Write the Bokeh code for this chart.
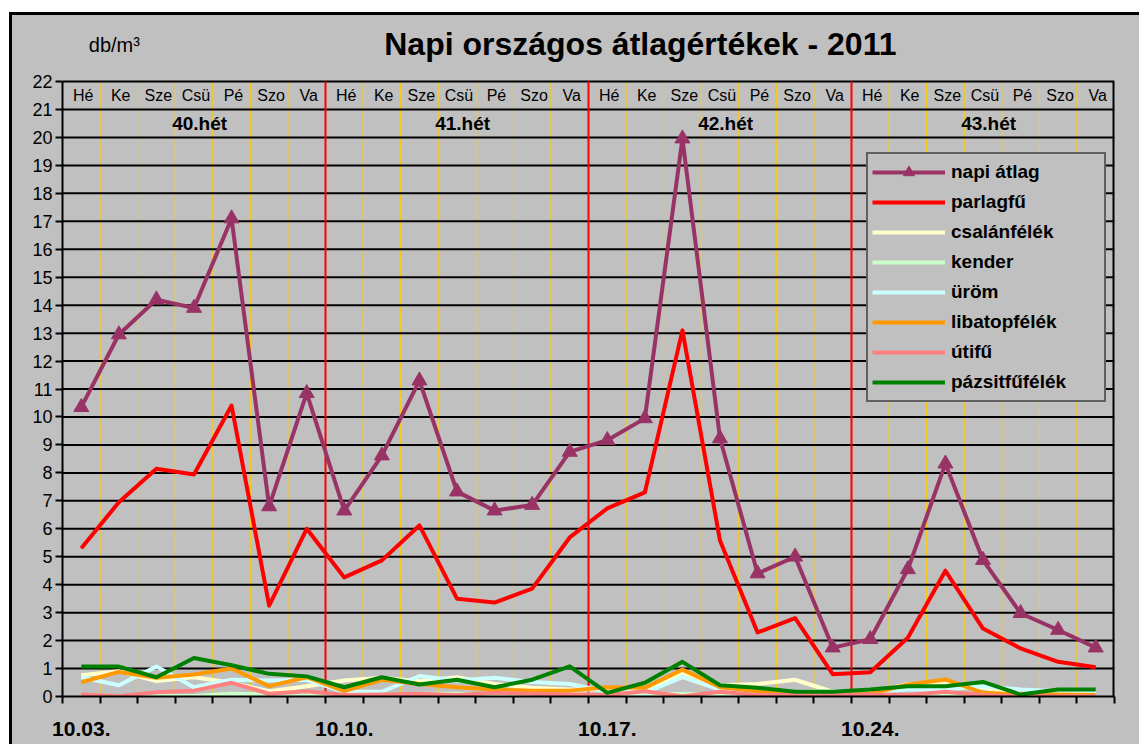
from bokeh.plotting import figure
from bokeh.models import (Range1d, FixedTicker, Legend, LegendItem, ColumnDataSource,
                          GlobalInlineStyleSheet)
from bokeh.embed import file_html
from bokeh.resources import INLINE
from bokeh.core.properties import value

# ---------------- data ----------------
dates = ["10.%02d." % d for d in range(3, 31)]          # 28 days, 10.03. .. 10.30.
weekdays = ["Hé", "Ke", "Sze", "Csü", "Pé", "Szo", "Va"]
weeks = ["40.hét", "41.hét", "42.hét", "43.hét"]
date_labels = ["10.03.", "10.10.", "10.17.", "10.24."]
title_text = "Napi országos átlagértékek - 2011"
unit_text = "db/m³"

napi_atlag = [10.35, 12.95, 14.2, 13.9, 17.1, 6.8, 10.85,
              6.65, 8.62, 11.3, 7.33, 6.65, 6.85, 8.75,
              9.17, 9.95, 19.96, 9.23, 4.4, 5.0, 1.75,
              2.05, 4.55, 8.33, 4.88, 2.98, 2.38, 1.75]
parlagfu = [5.3, 6.95, 8.15, 7.94, 10.41, 3.25, 6.0,
            4.26, 4.87, 6.12, 3.5, 3.36, 3.86, 5.69,
            6.73, 7.3, 13.1, 5.58, 2.29, 2.8, 0.8,
            0.87, 2.1, 4.5, 2.43, 1.72, 1.24, 1.05]
csalanfelek = [0.76, 0.9, 0.55, 0.69, 0.49, 0.19, 0.37,
               0.57, 0.67, 0.55, 0.69, 0.45, 0.31, 0.25,
               0.25, 0.19, 0.85, 0.4, 0.45, 0.6, 0.17,
               0.13, 0.45, 0.45, 0.31, 0.1, 0.1, 0.1]
kender = [0.0, 0.0, 0.02, 0.02, 0.1, 0.07, 0.1,
          0.05, 0.05, 0.1, 0.1, 0.08, 0.1, 0.08,
          0.05, 0.05, 0.1, 0.05, 0.05, 0.03, 0.03,
          0.03, 0.05, 0.1, 0.03, 0.02, 0.02, 0.02]
urom = [0.69, 0.4, 1.07, 0.33, 0.6, 0.57, 0.6,
        0.17, 0.17, 0.73, 0.57, 0.67, 0.52, 0.45,
        0.17, 0.13, 0.69, 0.25, 0.21, 0.17, 0.19,
        0.17, 0.25, 0.25, 0.37, 0.25, 0.19, 0.17]
libatopfelek = [0.51, 0.88, 0.67, 0.79, 1.0, 0.37, 0.69,
                0.19, 0.6, 0.45, 0.33, 0.25, 0.21, 0.21,
                0.33, 0.31, 0.96, 0.33, 0.19, 0.1, 0.1,
                0.1, 0.43, 0.61, 0.13, 0.07, 0.07, 0.05]
utifu = [0.07, 0.01, 0.15, 0.21, 0.49, 0.1, 0.19,
         0.05, 0.07, 0.1, 0.05, 0.13, 0.1, 0.07,
         0.05, 0.19, 0.01, 0.17, 0.05, 0.05, 0.05,
         0.07, 0.05, 0.17, 0.05, 0.01, 0.01, 0.01]
pazsitfufelek = [1.07, 1.07, 0.69, 1.38, 1.12, 0.81, 0.72,
                 0.33, 0.69, 0.43, 0.6, 0.33, 0.6, 1.08,
                 0.13, 0.49, 1.24, 0.4, 0.31, 0.17, 0.17,
                 0.25, 0.37, 0.37, 0.52, 0.07, 0.25, 0.25]

series = [
    ("parlagfű", parlagfu, "#FF0000"),
    ("csalánfélék", csalanfelek, "#FFFFCC"),
    ("kender", kender, "#CCFFCC"),
    ("üröm", urom, "#CCFFFF"),
    ("libatopfélék", libatopfelek, "#FF9900"),
    ("útifű", utifu, "#FF8080"),
    ("pázsitfűfélék", pazsitfufelek, "#008000"),
]

FONT = "Liberation Sans"
GREY = "#C0C0C0"
n = len(dates)
ymax = 22
ytop = 24.9           # frame reaches up into the header band
xs = [i + 0.5 for i in range(n)]

p = figure(width=1139, height=744, x_range=Range1d(0, n), y_range=Range1d(0, ytop),
           output_backend="svg", toolbar_location=None,
           min_border_left=62, min_border_right=25, min_border_top=0, min_border_bottom=48,
           background_fill_alpha=0, border_fill_alpha=0)
p.title.visible = False
p.outline_line_color = None
p.xgrid.visible = False
p.ygrid.visible = False
# white page, black chart-area frame (left/top) and grey chart area painted behind the canvas
p.styles = {"background": ("linear-gradient(%s, %s) 12px 15px / 100%% 100%% no-repeat, "
                           "linear-gradient(#000, #000) 9px 12px / 100%% 100%% no-repeat, "
                           "#FFFFFF") % (GREY, GREY)}
p.stylesheets = [GlobalInlineStyleSheet(css="html, body { overflow: hidden; margin: 0; }")]

# axes
p.yaxis.ticker = FixedTicker(ticks=list(range(0, ymax + 1)))
p.yaxis.bounds = (0, ymax)
p.yaxis.major_label_text_font = FONT
p.yaxis.major_label_text_font_size = "18px"
p.yaxis.major_label_text_color = "black"
p.yaxis.major_label_standoff = 3
p.yaxis.major_tick_out = 7
p.yaxis.major_tick_in = 0
p.yaxis.major_tick_line_width = 2
p.yaxis.minor_tick_line_color = None

p.xaxis.ticker = FixedTicker(ticks=[k * 7 + 0.5 for k in range(len(date_labels))],
                             minor_ticks=list(range(0, n + 1)))
p.xaxis.major_label_overrides = {k * 7 + 0.5: lab for k, lab in enumerate(date_labels)}
p.xaxis.major_tick_line_color = None
p.xaxis.major_tick_out = 0
p.xaxis.major_tick_in = 0
p.xaxis.minor_tick_line_color = "black"
p.xaxis.minor_tick_line_width = 2
p.xaxis.minor_tick_out = 7
p.xaxis.minor_tick_in = 0
p.xaxis.major_label_standoff = 18
p.xaxis.major_label_text_font = FONT
p.xaxis.major_label_text_font_size = "21px"
p.xaxis.major_label_text_font_style = "bold"
p.xaxis.major_label_text_color = "black"
for ax in (p.xaxis, p.yaxis):
    ax.axis_line_color = "black"
    ax.axis_line_width = 2

# grid: yellow day separators, black horizontal lines, red week separators, right edge
day_sep = [i for i in range(1, n) if i % 7 != 0]
week_sep = [i for i in range(7, n, 7)]
p.segment(x0=day_sep, y0=[0] * len(day_sep), x1=day_sep, y1=[ymax] * len(day_sep),
          line_color="#FFCC00", line_width=1, level="underlay")
hl = list(range(1, ymax + 1))
p.segment(x0=[0] * len(hl), y0=hl, x1=[n] * len(hl), y1=hl,
          line_color="black", line_width=2, level="underlay")
p.segment(x0=week_sep, y0=[0] * len(week_sep), x1=week_sep, y1=[ymax] * len(week_sep),
          line_color="#FF0000", line_width=2, level="underlay")
p.segment(x0=[n], y0=[0], x1=[n], y1=[ymax], line_color="black", line_width=4,
          level="underlay")

# weekday and week labels inside the top band
day_src = ColumnDataSource(dict(x=[i + 0.55 for i in range(n)], y=[ymax - 0.5] * n,
                                t=[weekdays[i % 7] for i in range(n)]))
p.text("x", "y", text="t", source=day_src, text_font=value(FONT), text_font_size="16px",
       text_align="center", text_baseline="middle", text_color="black")
wk_src = ColumnDataSource(dict(x=[w * 7 + 3.65 for w in range(len(weeks))],
                               y=[ymax - 1.5] * len(weeks), t=weeks))
p.text("x", "y", text="t", source=wk_src, text_font=value(FONT), text_font_size="19px",
       text_font_style="bold", text_align="center", text_baseline="middle",
       text_color="black")

# title and unit (in the header band of the frame)
p.text(x=[15.38], y=[ymax + 1.33], text=[title_text], text_font=value(FONT),
       text_font_size="32px", text_font_style="bold", text_align="center",
       text_baseline="middle", text_color="black")
p.text(x=[1.38], y=[ymax + 1.3], text=[unit_text], text_font=value(FONT),
       text_font_size="20px", text_align="center", text_baseline="middle",
       text_color="black")

# data lines
items = []
r_line = p.line(xs, napi_atlag, line_color="#993366", line_width=4, line_join="round")
r_mark = p.scatter(xs, napi_atlag, marker="triangle", size=15,
                   fill_color="#993366", line_color="#993366")
items.append(LegendItem(label="napi átlag", renderers=[r_line, r_mark]))
for name, vals, col in series:
    r = p.line(xs, vals, line_color=col, line_width=4, line_join="round")
    items.append(LegendItem(label=name, renderers=[r]))

legend = Legend(items=items, location=(804, 294),
                background_fill_color=GREY, background_fill_alpha=1,
                border_line_color="black", border_line_width=2,
                label_text_font=FONT, label_text_font_style="bold",
                label_text_font_size="19px", label_text_color="black",
                glyph_width=73, glyph_height=28, label_height=28, label_width=149,
                spacing=2, padding=4, margin=0, label_standoff=6)
p.add_layout(legend)

open("out.html", "w").write(file_html(p, INLINE))
